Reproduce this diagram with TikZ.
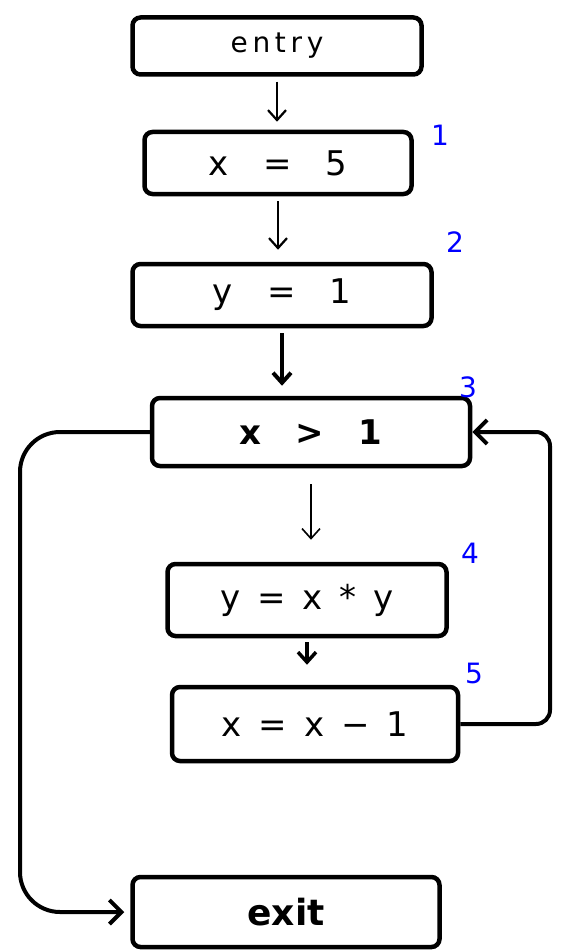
\documentclass[tikz,border=0pt]{standalone}
\usepackage{fontspec}
\setmainfont{DejaVu Sans}
\usetikzlibrary{arrows.meta}
\begin{document}
\begin{tikzpicture}[x=1pt,y=-1pt,
  blk/.style={draw, line width=4.5pt, rounded corners=8pt, inner sep=0pt, font=\fontsize{34}{36}\selectfont},
  num/.style={text=blue, font=\fontsize{28}{30}\selectfont},
  flow/.style={line width=2.5pt, -{Straight Barb[length=10pt,width=18pt]}},
  back/.style={line width=4pt, rounded corners=14pt, -{Straight Barb[length=12pt,width=24pt]}}]
\useasboundingbox (0,0) rectangle (564,952);
\node[blk, minimum width=289pt, minimum height=57pt, font=\fontsize{28}{30}\selectfont] (entry) at (277,46) {e\,n\,t\,r\,y};
\node[blk, minimum width=267pt, minimum height=62pt] (b1) at (278,163) {x\quad=\quad5};
\node[blk, minimum width=299pt, minimum height=62pt] (b2) at (282,295) {y\quad=\quad1};
\node[blk, minimum width=318pt, minimum height=68pt, font=\bfseries\fontsize{34}{36}\selectfont] (b3) at (311,432) {x\quad>\quad1};
\node[blk, minimum width=279pt, minimum height=72pt] (b4) at (307,600) {y\enspace=\enspace x\enspace*\enspace y};
\node[blk, minimum width=286pt, minimum height=74pt] (b5) at (315,724) {x\enspace=\enspace x\enspace−\enspace1};
\node[blk, minimum width=307pt, minimum height=70pt, font=\bfseries\fontsize{36}{38}\selectfont] (exit) at (286,912) {exit};
\node[num] (n1) at (440,135) {1};
\node[num] (n2) at (455,242) {2};
\node[num] (n3) at (468,387) {3};
\node[num] (n4) at (470,553) {4};
\node[num] (n5) at (474,673) {5};
\coordinate (rx) at (550,0);
\coordinate (lx) at (20,0);
\draw[flow, line width=2.2pt, shorten <=5pt, shorten >=8pt] (entry.south) -- (entry.south |- b1.north);
\draw[flow, line width=2.2pt, shorten <=5pt, shorten >=12pt] (b1.south) -- (b1.south |- b2.north);
\draw[flow, line width=4pt, shorten <=5pt, shorten >=10pt] (b2.south) -- (b2.south |- b3.north);
\draw[flow, line width=1.6pt, shorten <=16pt, shorten >=22pt] (b3.south) -- (b3.south |- b4.north);
\draw[flow, line width=3.5pt, shorten <=4pt, shorten >=20pt] (b4.south) -- (b4.south |- b5.north);
\draw[back] (b5.east) -| (rx |- b3.east) -- (b3.east);
\draw[back, rounded corners=40pt, shorten >=6pt] (b3.west) -| (lx |- exit.west) -- (exit.west);
\end{tikzpicture}
\end{document}
